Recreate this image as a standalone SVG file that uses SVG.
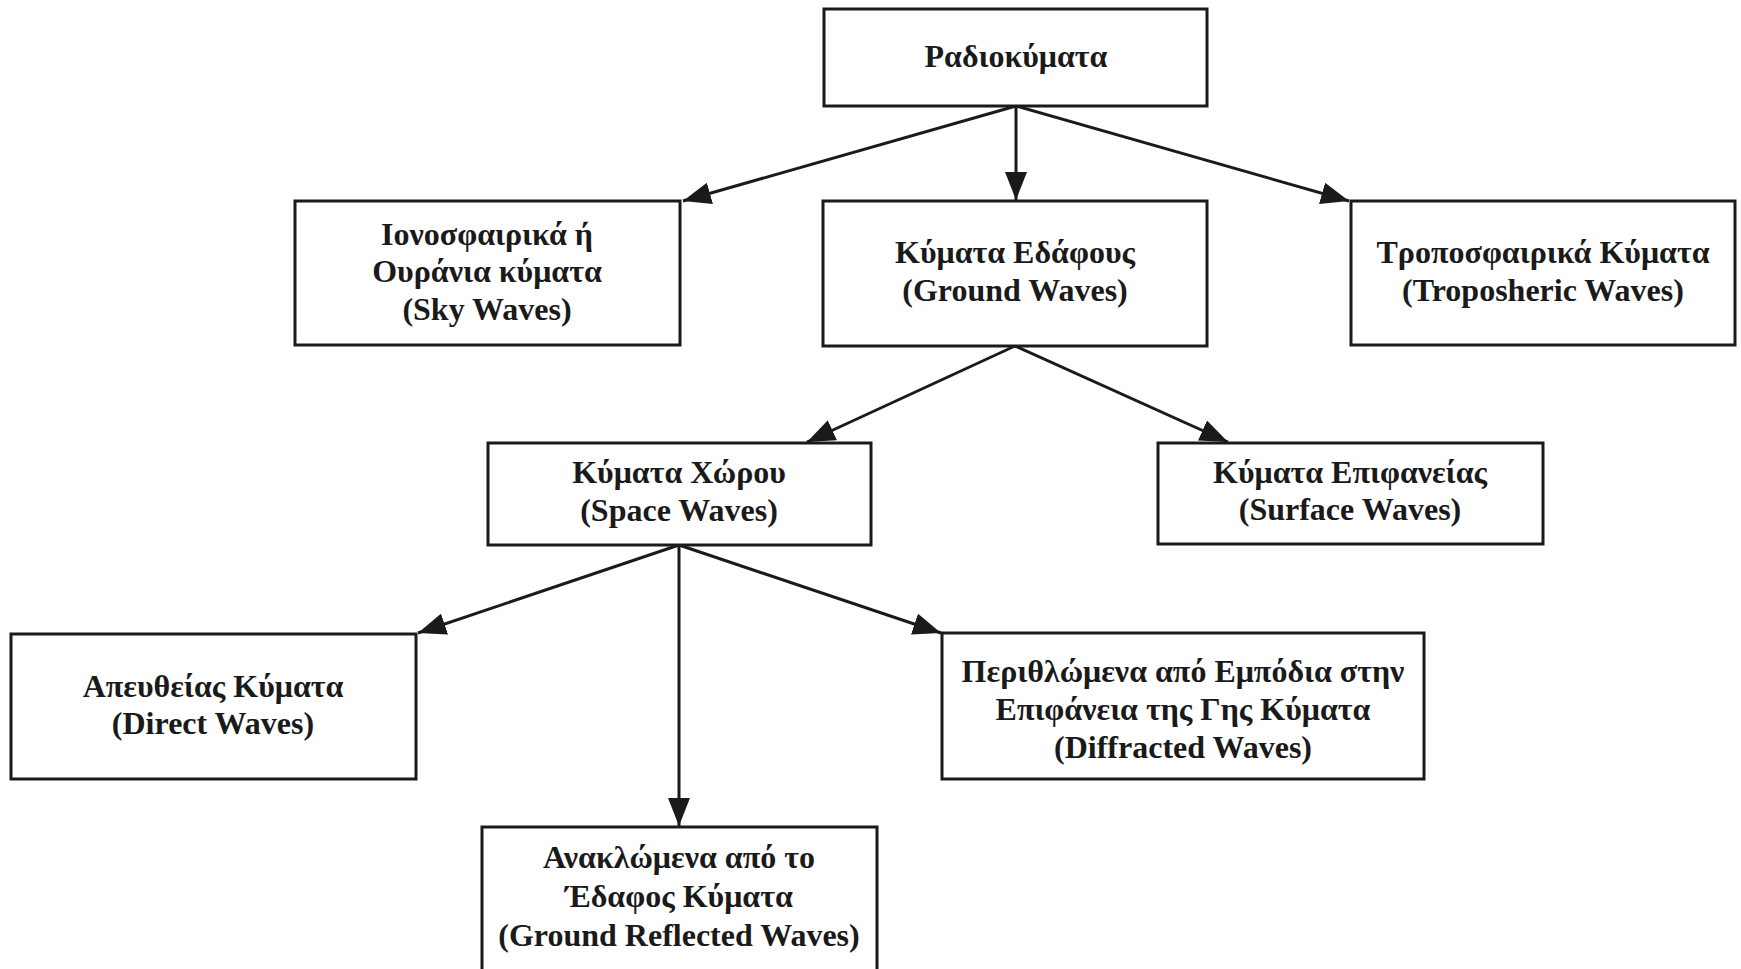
<svg xmlns="http://www.w3.org/2000/svg" width="1741" height="969" viewBox="0 0 1741 969">
<style>
.box{fill:#fff;stroke:#1a1a1a;stroke-width:3}
.t{font-family:"Liberation Serif","Times New Roman",serif;font-weight:bold;font-size:32px;fill:#1a1a1a;text-anchor:middle}
.c{stroke:#1a1a1a;stroke-width:3;fill:none;marker-end:url(#ah)}
</style>
<defs>
<marker id="ah" markerUnits="userSpaceOnUse" markerWidth="28" markerHeight="22" refX="28" refY="11" orient="auto">
<path d="M0,0 L28,11 L0,22 z" fill="#1a1a1a"/>
</marker>
</defs>
<rect width="1741" height="969" fill="#fff"/>
<g id="connectors">
<line class="c" x1="1016" y1="106" x2="683" y2="201"/>
<line class="c" x1="1016" y1="106" x2="1016" y2="200"/>
<line class="c" x1="1016" y1="106" x2="1349" y2="201"/>
<line class="c" x1="1015" y1="346" x2="807" y2="442"/>
<line class="c" x1="1015" y1="346" x2="1228" y2="442"/>
<line class="c" x1="679" y1="545" x2="418" y2="633"/>
<line class="c" x1="679" y1="545" x2="679" y2="826"/>
<line class="c" x1="679" y1="545" x2="941" y2="633"/>
</g>
<g id="root">
<rect class="box" x="824" y="9" width="383" height="97"/>
<text class="t" x="1016" y="67">Ραδιοκύματα</text>
</g>
<g id="sky">
<rect class="box" x="295" y="201" width="385" height="144"/>
<text class="t" x="487" y="245">Ιονοσφαιρικά ή</text>
<text class="t" x="487" y="282">Ουράνια κύματα</text>
<text class="t" x="487" y="320">(Sky Waves)</text>
</g>
<g id="ground">
<rect class="box" x="823" y="201" width="384" height="145"/>
<text class="t" x="1015" y="263">Κύματα Εδάφους</text>
<text class="t" x="1015" y="301">(Ground Waves)</text>
</g>
<g id="tropo">
<rect class="box" x="1351" y="201" width="384" height="144"/>
<text class="t" x="1543" y="263">Τροποσφαιρικά Κύματα</text>
<text class="t" x="1543" y="301">(Troposheric Waves)</text>
</g>
<g id="space">
<rect class="box" x="488" y="443" width="383" height="102"/>
<text class="t" x="679" y="483">Κύματα Χώρου</text>
<text class="t" x="679" y="521">(Space Waves)</text>
</g>
<g id="surface">
<rect class="box" x="1158" y="443" width="385" height="101"/>
<text class="t" x="1350" y="483">Κύματα Επιφανείας</text>
<text class="t" x="1350" y="520">(Surface Waves)</text>
</g>
<g id="direct">
<rect class="box" x="11" y="634" width="405" height="145"/>
<text class="t" x="213" y="697">Απευθείας Κύματα</text>
<text class="t" x="213" y="734">(Direct Waves)</text>
</g>
<g id="diffracted">
<rect class="box" x="942" y="633" width="482" height="146"/>
<text class="t" x="1183" y="682">Περιθλώμενα από Εμπόδια στην</text>
<text class="t" x="1183" y="720">Επιφάνεια της Γης Κύματα</text>
<text class="t" x="1183" y="758">(Diffracted Waves)</text>
</g>
<g id="reflected">
<rect class="box" x="482" y="827" width="395" height="160"/>
<text class="t" x="679" y="868">Ανακλώμενα από το</text>
<text class="t" x="679" y="907">Έδαφος Κύματα</text>
<text class="t" x="679" y="946">(Ground Reflected Waves)</text>
</g>
</svg>
